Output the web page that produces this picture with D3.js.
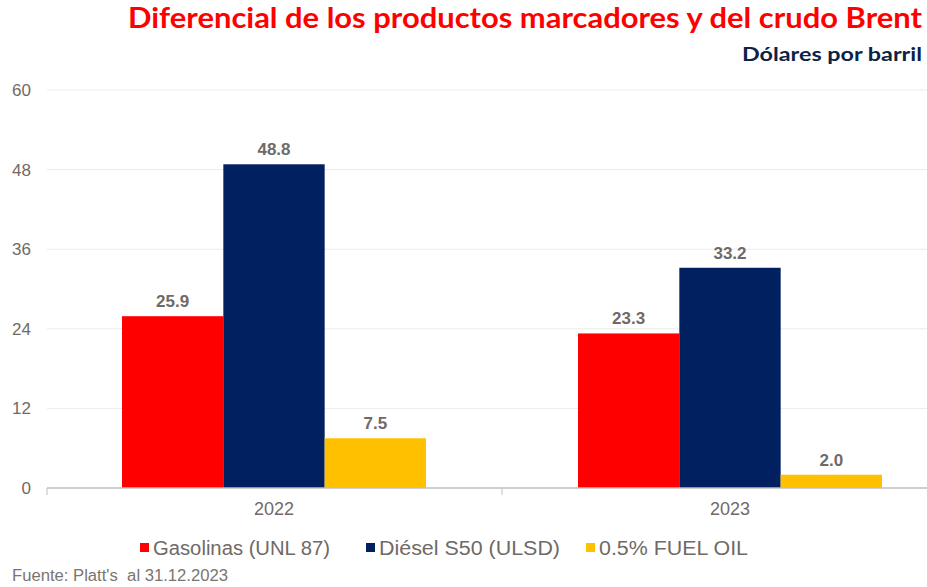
<!DOCTYPE html>
<html>
<head>
<meta charset="utf-8">
<script src="https://cdn.jsdelivr.net/npm/d3@7"></script>
<style>
  body { margin: 0; background: #fff; }
  svg { display: block; }
</style>
</head>
<body>
<div class="chart"></div>
<script>
const WIDTH = 927;
const HEIGHT = 587;

// data
var years = ["2022", "2023"];
var series = ["Gasolinas (UNL 87)", "Diésel S50 (ULSD)", "0.5% FUEL OIL"];
var gasolinas = [25.9, 23.3];
var diesel = [48.8, 33.2];
var fuelOil = [7.5, 2.0];
var yTicks = [0, 12, 24, 36, 48, 60];
var colors = ["#ff0000", "#002060", "#ffc000"];

var values = [gasolinas, diesel, fuelOil];

var translate = function (x, y) {
    return "translate(" + x + "," + y + ")";
};

var svg = d3.select('.chart').append('svg')
    .attr('width', WIDTH)
    .attr('height', HEIGHT);

// plot runs off the right edge like the original crop
var x0 = d3.scaleBand().domain(years).range([46, 958]);
var x1 = d3.scaleBand().domain(d3.range(series.length))
    .range([0, x0.bandwidth()])
    .paddingInner(0)
    .paddingOuter(0.75);
var y = d3.scaleLinear().domain([0, 60]).range([488, 90]);

var textGray = "#6f6a66";
var font = "Liberation Sans, Arial, sans-serif";

// gridlines
svg.append("g").selectAll("line")
    .data(yTicks.filter(function (d) { return d > 0; }))
    .enter().append("line")
    .attr("x1", 47).attr("x2", WIDTH)
    .attr("y1", function (d) { return y(d); })
    .attr("y2", function (d) { return y(d); })
    .attr("stroke", "#ebebeb")
    .attr("stroke-width", 1);

// y tick labels
svg.append("g").selectAll("text")
    .data(yTicks)
    .enter().append("text")
    .attr("x", 31)
    .attr("y", function (d) { return y(d); })
    .attr("dy", "0.35em")
    .attr("text-anchor", "end")
    .style("font-family", font)
    .style("font-size", "17px")
    .style("fill", textGray)
    .text(function (d) { return d; });

// bars
var groups = svg.append("g").selectAll("g")
    .data(years)
    .enter().append("g")
    .attr("transform", function (d) { return translate(x0(d), 0); });

var cells = function (d, i) {
    return values.map(function (v, s) { return { s: s, v: v[i] }; });
};

groups.selectAll("rect")
    .data(cells)
    .enter().append("rect")
    .attr("x", function (d) { return x1(d.s); })
    .attr("width", x1.bandwidth())
    .attr("y", function (d) { return y(d.v); })
    .attr("height", function (d) { return y(0) - y(d.v); })
    .attr("fill", function (d) { return colors[d.s]; });

groups.selectAll("text")
    .data(cells)
    .enter().append("text")
    .attr("x", function (d) { return x1(d.s) + x1.bandwidth() / 2; })
    .attr("y", function (d) { return y(d.v) - 9; })
    .attr("text-anchor", "middle")
    .style("font-family", font)
    .style("font-size", "17px")
    .style("font-weight", "bold")
    .style("fill", textGray)
    .text(function (d) { return d.v.toFixed(1); });

// x axis
svg.append("line")
    .attr("x1", 47).attr("x2", WIDTH)
    .attr("y1", y(0)).attr("y2", y(0))
    .attr("stroke", "#bfbfbf").attr("stroke-width", 1.5);

svg.append("g").selectAll("line")
    .data([x0.range()[0] + 1, x0("2023")])
    .enter().append("line")
    .attr("x1", function (d) { return d; }).attr("x2", function (d) { return d; })
    .attr("y1", y(0)).attr("y2", y(0) + 7)
    .attr("stroke", "#bfbfbf");

svg.append("g").selectAll("text")
    .data(years)
    .enter().append("text")
    .attr("x", function (d) { return x0(d) + x0.bandwidth() / 2; })
    .attr("y", 515)
    .attr("text-anchor", "middle")
    .style("font-family", font)
    .style("font-size", "18px")
    .style("fill", textGray)
    .text(function (d) { return d; });

// legend
var legendX = [140, 366, 586];
var legendW = [177, 181, 149];
var legend = svg.append("g").selectAll("g")
    .data(series)
    .enter().append("g")
    .attr("transform", function (d, i) { return translate(legendX[i], 548); });

legend.append("rect")
    .attr("x", 0).attr("y", -5)
    .attr("width", 9).attr("height", 9)
    .attr("fill", function (d, i) { return colors[i]; });

legend.append("text")
    .attr("x", 13)
    .attr("dy", "0.36em")
    .attr("textLength", function (d, i) { return legendW[i]; })
    .attr("lengthAdjust", "spacingAndGlyphs")
    .style("font-family", font)
    .style("font-size", "20px")
    .style("fill", textGray)
    .text(function (d) { return d; });

// title
svg.append("text")
    .attr("x", 922).attr("y", 28)
    .attr("text-anchor", "end")
    .attr("textLength", 794)
    .attr("lengthAdjust", "spacingAndGlyphs")
    .style("font-family", "Lato, sans-serif")
    .style("font-size", "28px")
    .style("font-weight", "bold")
    .style("fill", "#ff0000")
    .text("Diferencial de los productos marcadores y del crudo Brent");

svg.append("text")
    .attr("x", 922).attr("y", 61)
    .attr("text-anchor", "end")
    .attr("textLength", 180)
    .attr("lengthAdjust", "spacingAndGlyphs")
    .style("font-family", "Lato, sans-serif")
    .style("font-size", "19px")
    .style("font-weight", "bold")
    .style("fill", "#0c2347")
    .text("Dólares por barril");

// source
svg.append("text")
    .attr("x", 12).attr("y", 581)
    .attr("textLength", 216)
    .attr("lengthAdjust", "spacingAndGlyphs")
    .style("white-space", "pre")
    .style("font-family", font)
    .style("font-size", "16px")
    .style("fill", "#7a7570")
    .text("Fuente: Platt's  al 31.12.2023");
</script>
</body>
</html>
